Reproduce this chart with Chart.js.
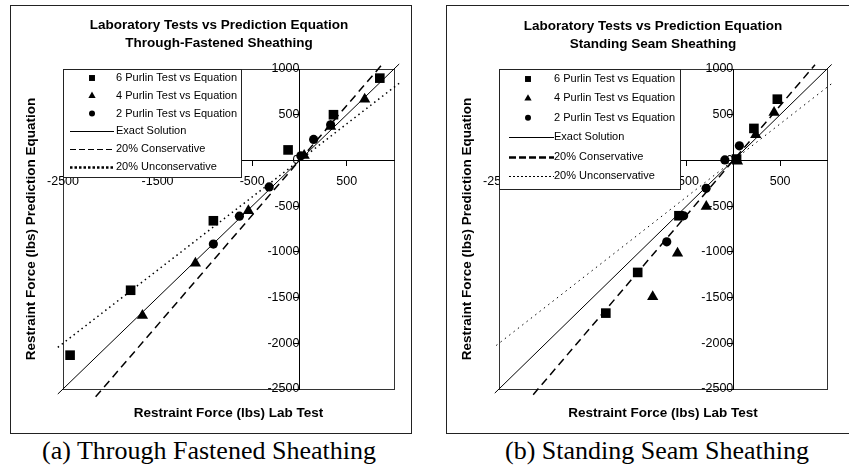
<!DOCTYPE html>
<html>
<head>
<meta charset="utf-8">
<script src="https://cdn.jsdelivr.net/npm/chart.js"></script>
<style>
  body { margin: 0; background: #fff; width: 849px; height: 472px; position: relative; overflow: hidden; }
  .panel { position: absolute; top: 5px; height: 427px; border: 1px solid #222; }
  .panel canvas { display: block; }
  .caption { position: absolute; top: 436px; font: 26px "Liberation Serif", "Times New Roman", serif; line-height: 30px; text-align: center; color: #000; }
</style>
</head>
<body>
<div class="panel" style="left:10px; width:400px;"><canvas id="chartA" width="400" height="427"></canvas></div>
<div class="panel" style="left:446px; width:402px; border-right:none;"><canvas id="chartB" width="402" height="427"></canvas></div>
<div class="caption" style="left:0px; width:418px;">(a) Through Fastened Sheathing</div>
<div class="caption" style="left:457px; width:400px;">(b) Standing Seam Sheathing</div>
<script>
// tick labels
const xTicks = [-2500, -1500, -500, 500];
const yTicks = [-2500, -2000, -1500, -1000, -500, 0, 500, 1000];

const seriesNames = ["6 Purlin Test vs Equation", "4 Purlin Test vs Equation", "2 Purlin Test vs Equation",
  "Exact Solution", "20% Conservative", "20% Unconservative"];

// (a) through-fastened: [lab test, prediction]
const sixA = [[-2425, -2130], [-1785, -1420], [-910, -660], [-120, 115], [360, 500], [850, 900]];
const fourA = [[-1660, -1695], [-1100, -1125], [-540, -550], [50, 55], [330, 370], [690, 670]];
const twoA = [[-910, -915], [-635, -610], [-320, -290], [15, 50], [150, 230], [330, 390]];
const exactA = [[-2555, -2555], [1055, 1055]];
const consA = [[-2155, -2586], [890, 1068]];
const unconsA = [[-2555, -2044], [1065, 852]];

// (b) standing seam
const sixB = [[-1360, -1670], [-1020, -1225], [-580, -605], [35, 15], [220, 350], [470, 670]];
const fourB = [[-860, -1490], [-595, -1015], [-288, -505], [45, -10], [240, 280], [435, 525]];
const twoB = [[-710, -890], [-530, -605], [-290, -305], [-90, 5], [65, 160]];
const exactB = [[-2545, -2545], [1050, 1050]];
const consB = [[-2135, -2562], [872, 1046]];
const unconsB = [[-2530, -2024], [1065, 852]];

const FONT = '"Liberation Sans", Arial, sans-serif';
const pts = arr => arr.map(p => ({x: p[0], y: p[1]}));

const plotFrame = {
  id: 'plotFrame',
  beforeDraw(chart) {
    const {ctx, chartArea: a} = chart;
    ctx.save();
    ctx.strokeStyle = '#333';
    ctx.lineWidth = 1;
    ctx.strokeRect(Math.round(a.left) + 0.5, Math.round(a.top) + 0.5,
      Math.round(a.right - a.left), Math.round(a.bottom - a.top));
    ctx.restore();
  }
};

const boxLegend = {
  id: 'boxLegend',
  afterDraw(chart, args, o) {
    const {ctx, chartArea: a} = chart;
    ctx.save();
    ctx.fillStyle = '#fff';
    ctx.fillRect(a.left, a.top, o.width, o.height);
    ctx.strokeStyle = '#222';
    ctx.lineWidth = 1;
    ctx.strokeRect(Math.round(a.left) + 0.5, Math.round(a.top) + 0.5, o.width, o.height);
    ctx.font = '11px ' + FONT;
    ctx.textBaseline = 'middle';
    chart.data.datasets.forEach((ds, i) => {
      const y = a.top + o.rowTop + i * o.rowStep;
      ctx.fillStyle = '#000';
      ctx.strokeStyle = '#000';
      if (ds.showLine) {
        const st = o.lines[i - 3];
        ctx.lineWidth = st.width;
        ctx.setLineDash(st.dash);
        ctx.beginPath();
        ctx.moveTo(a.left + o.lineX0, Math.round(y) + 0.5);
        ctx.lineTo(a.left + o.lineX1, Math.round(y) + 0.5);
        ctx.stroke();
        ctx.setLineDash([]);
      } else {
        Chart.helpers.drawPoint(ctx, {pointStyle: ds.pointStyle, radius: o.radius[ds.pointStyle], rotation: 0, borderWidth: 0},
          a.left + o.markerX, y);
      }
      ctx.fillStyle = '#000';
      ctx.fillText(ds.label, a.left + o.textX, y);
    });
    ctx.restore();
  }
};

const panelText = {
  id: 'panelText',
  afterDraw(chart, args, o) {
    const {ctx, chartArea: a} = chart;
    const cx = (a.left + a.right) / 2;
    ctx.save();
    ctx.fillStyle = '#000';
    ctx.textAlign = 'center';
    ctx.textBaseline = 'middle';
    ctx.font = 'bold 13.5px ' + FONT;
    o.title.forEach((t, i) => ctx.fillText(t, cx + o.titleDx, o.titleY + i * 18));
    ctx.fillText(o.xTitle, cx, a.bottom + 24);
    ctx.translate(a.left - 32, (a.top + a.bottom) / 2);
    ctx.rotate(-Math.PI / 2);
    ctx.fillText(o.yTitle, 0, 0);
    ctx.restore();
  }
};

function makeChart(id, six, four, two, exact, cons, uncons, opts) {
  const markerSet = [
    {data: six, style: 'rect', r: 6.8},
    {data: four, style: 'triangle', r: 6.5},
    {data: two, style: 'circle', r: 4.6}
  ];
  const datasets = markerSet.map((m, i) => ({
    type: 'scatter',
    label: seriesNames[i],
    data: pts(m.data),
    pointStyle: m.style,
    pointRadius: m.r,
    pointHoverRadius: m.r,
    pointBackgroundColor: '#000',
    pointBorderColor: '#000',
    pointBorderWidth: 0,
    clip: false
  }));
  [exact, cons, uncons].forEach((line, i) => {
    datasets.push({
      type: 'line',
      label: seriesNames[3 + i],
      data: pts(line),
      showLine: true,
      borderColor: '#000',
      borderWidth: opts.lines[i].plotWidth,
      borderDash: opts.lines[i].plotDash,
      pointRadius: 0,
      fill: false,
      clip: false
    });
  });
  // lines go under the markers
  datasets.forEach(d => { d.order = d.type === 'line' ? 10 : 1; });

  const tickFont = {family: FONT, size: 12.5};
  const axisCommon = {
    type: 'linear',
    min: -2500,
    max: 1000,
    grid: {drawOnChartArea: false, drawTicks: true, tickLength: 5, color: '#000'},
    border: {color: '#000', width: 1}
  };

  return new Chart(document.getElementById(id), {
    data: {datasets},
    options: {
      responsive: false,
      animation: false,
      devicePixelRatio: 1,
      layout: {padding: opts.padding},
      events: [],
      scales: {
        x: Object.assign({}, axisCommon, {
          position: {y: 0},
          afterBuildTicks: s => { s.ticks = xTicks.map(v => ({value: v})); },
          ticks: {color: '#000', font: tickFont, autoSkip: false, maxRotation: 0, padding: 9,
            callback: v => String(v)}
        }),
        y: Object.assign({}, axisCommon, {
          position: {x: 0},
          afterBuildTicks: s => { s.ticks = yTicks.map(v => ({value: v})); },
          ticks: {color: '#000', font: tickFont, autoSkip: false, padding: 4,
            callback: v => String(v)}
        })
      },
      plugins: {
        legend: {display: false},
        tooltip: {enabled: false},
        boxLegend: opts.legend,
        panelText: opts.text
      }
    },
    plugins: [plotFrame, boxLegend, panelText]
  });
}

makeChart('chartA', sixA, fourA, twoA, exactA, consA, unconsA, {
  padding: {left: 52, top: 63, right: 17, bottom: 44},
  lines: [
    {plotWidth: 1, plotDash: []},
    {plotWidth: 1.5, plotDash: [8, 5]},
    {plotWidth: 1.5, plotDash: [1.5, 3.5]}
  ],
  legend: {
    width: 178, height: 108, rowTop: 9, rowStep: 17.8, markerX: 29, lineX0: 7, lineX1: 51, textX: 53,
    radius: {rect: 4.2, triangle: 4.2, circle: 3},
    lines: [{width: 1, dash: []}, {width: 1, dash: [6, 3]}, {width: 2.5, dash: [2.5, 2]}]
  },
  text: {
    title: ['Laboratory Tests vs Prediction Equation', 'Through-Fastened Sheathing'],
    titleDx: -9.5, titleY: 19,
    xTitle: 'Restraint Force (lbs) Lab Test',
    yTitle: 'Restraint Force (lbs) Prediction Equation'
  }
});

makeChart('chartB', sixB, fourB, twoB, exactB, consB, unconsB, {
  padding: {left: 52, top: 63, right: 22, bottom: 44},
  lines: [
    {plotWidth: 1, plotDash: []},
    {plotWidth: 1.5, plotDash: [8, 5]},
    {plotWidth: 1, plotDash: [1.5, 4]}
  ],
  legend: {
    width: 181, height: 120, rowTop: 10, rowStep: 19.4, markerX: 29, lineX0: 10, lineX1: 55, textX: 55,
    radius: {rect: 4.2, triangle: 4.2, circle: 3},
    lines: [{width: 1, dash: []}, {width: 2.5, dash: [7, 3]}, {width: 1, dash: [2, 2]}]
  },
  text: {
    title: ['Laboratory Tests vs Prediction Equation', 'Standing Seam Sheathing'],
    titleDx: -10, titleY: 20,
    xTitle: 'Restraint Force (lbs) Lab Test',
    yTitle: 'Restraint Force (lbs) Prediction Equation'
  }
});
</script>
</body>
</html>
